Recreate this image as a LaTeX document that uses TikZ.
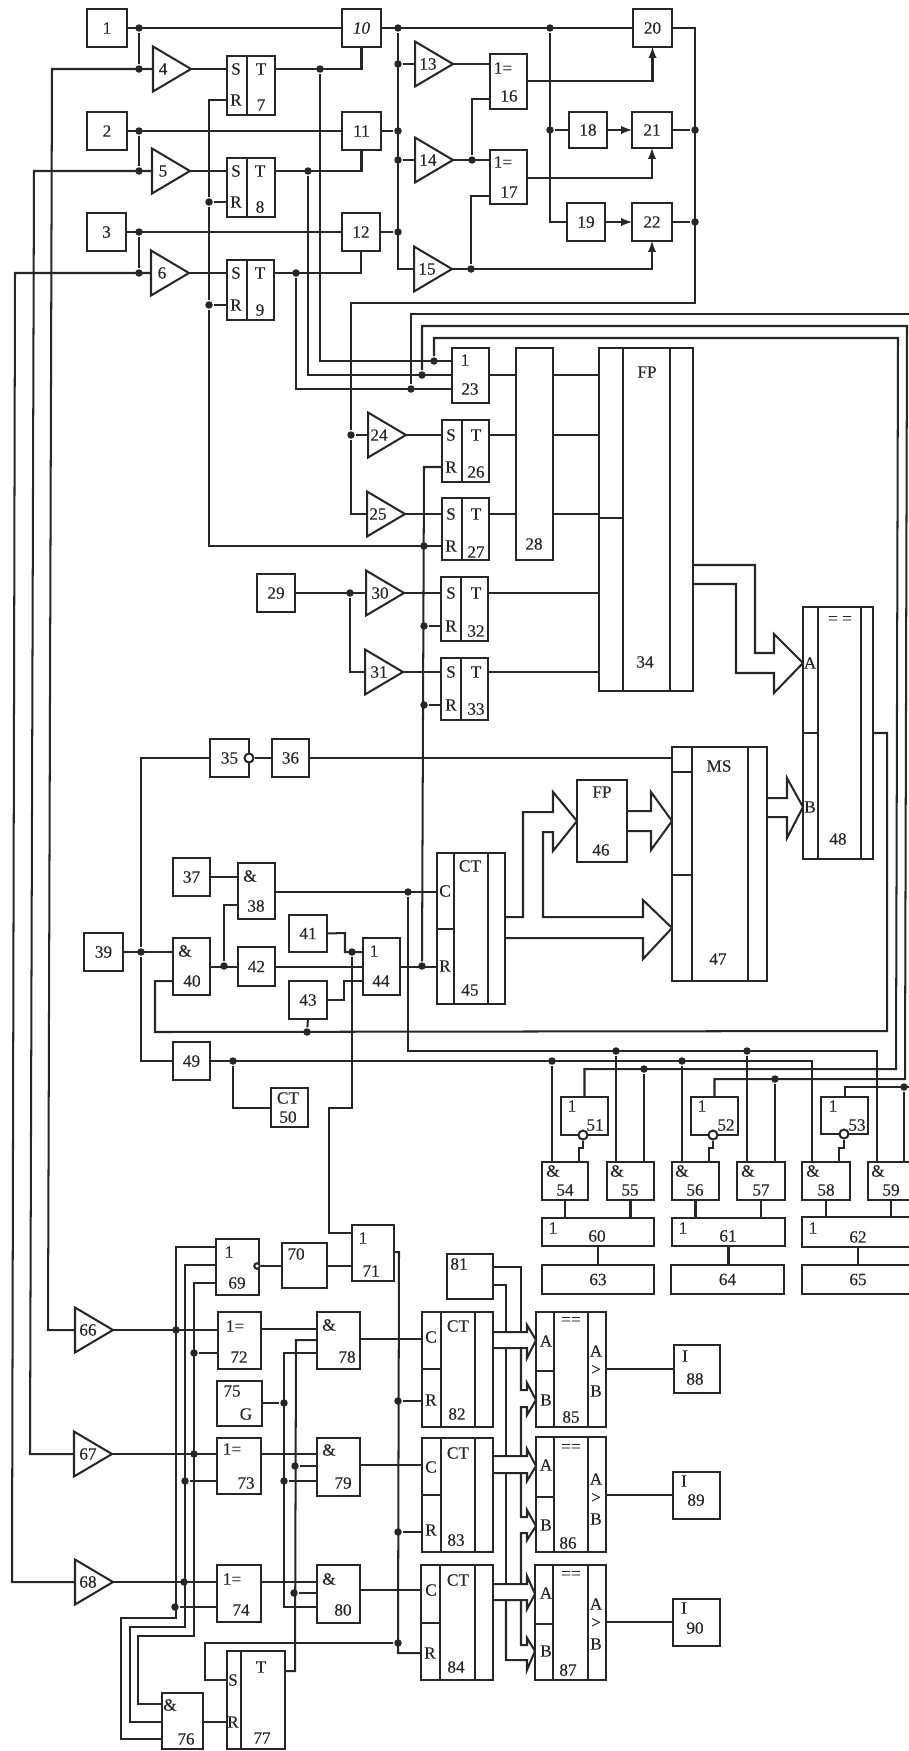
\documentclass[tikz,border=0pt]{standalone}
\usepackage{fontspec}
\setmainfont[FakeBold=0.25]{Liberation Serif}
\usepackage{tikz}
\usepackage{xcolor}
\usetikzlibrary{arrows,shapes.geometric}
\definecolor{ink}{HTML}{262626}
\tikzset{
	box/.style={draw,rectangle,inner sep=0pt,outer sep=0pt},
	tri/.style={draw,isosceles triangle,isosceles triangle stretches,inner sep=0pt,outer sep=0pt,anchor=apex,minimum width=0.9cm,minimum height=0.76cm},
	lab/.style={inner sep=0pt,outer sep=0pt},
	jdot/.style={circle,fill,inner sep=0pt,minimum size=0.15cm},
	bub/.style={circle,draw,fill=white,inner sep=0pt,minimum size=0.18cm},
	smallbub/.style={circle,draw,fill=white,inner sep=0pt,minimum size=0.11cm},
	fat/.style={line join=miter}
}
\begin{document}
\begin{tikzpicture}[x=0.02cm,y=-0.02cm,line width=1.15pt,color=ink,font=\fontsize{9.8}{11}\selectfont,>=latex]
	\path[use as bounding box,clip] (0,0) rectangle (909,1751);
	\coordinate (e1) at (915,314);
	\coordinate (e2) at (915,1087);
	\foreach \n/\xa/\ya/\xb/\yb/\t in {1/87/9/127/47/1,2/87/112/127/150/2,3/87/213/126/251/3,10/342/9/381/47/\textit{10},11/342/112/381/150/11,12/342/213/380/251/12,
		7/227/56/275/115/{},8/227/158/275/217/{},9/227/260/274/320/{},16/490/54/527/109/{},17/490/150/527/204/{},
		18/569/112/607/148/18,19/567/203/605/241/19,20/633/9/672/47/20,21/632/112/672/148/21,22/632/203/672/241/22,
		23/452/348/489/403/{},26/442/420/489/482/{},27/442/498/489/560/{},28/516/348/553/560/{},29/257/574/295/612/29,
		32/441/577/488/641/{},33/441/658/488/720/{},34/599/348/693/691/{},35/210/739/249/777/35,36/272/739/309/777/36,
		37/173/858/210/896/37,38/238/863/275/919/{},39/84/933/123/971/39,40/173/938/210/995/{},41/289/915/327/952/41,
		42/238/947/275/986/42,43/289/981/327/1019/43,44/363/938/400/995/{},45/437/853/505/1004/{},46/577/780/627/862/{},
		47/672/747/767/981/{},48/803/607/873/859/{},49/173/1042/210/1080/49,50/271/1088/308/1127/{},
		51/561/1097/608/1135/{},52/691/1097/738/1135/{},53/821/1097/868/1134/{},
		54/542/1162/588/1200/{},55/607/1162/654/1200/{},56/672/1162/719/1200/{},57/737/1162/785/1200/{},58/802/1162/850/1200/{},59/868/1162/914/1200/{},
		60/542/1218/654/1246/{},61/672/1218/785/1246/{},62/802/1217/914/1247/{},63/542/1265/654/1294/63,64/671/1265/784/1294/64,65/802/1265/914/1294/65,
		69/216/1239/259/1295/{},70/282/1243/327/1288/{},71/352/1225/394/1281/{},72/218/1312/261/1369/{},73/217/1438/261/1494/{},74/217/1565/261/1622/{},
		75/217/1381/262/1426/{},76/162/1693/203/1749/{},77/227/1651/285/1749/{},78/317/1312/360/1369/{},79/317/1438/360/1496/{},80/317/1565/360/1623/{},
		81/447/1254/493/1299/{},82/422/1312/493/1427/{},83/422/1438/493/1552/{},84/421/1565/493/1680/{},85/536/1312/606/1427/{},86/536/1437/606/1552/{},87/535/1565/606/1680/{},
		88/674/1345/720/1393/{},89/673/1472/720/1519/{},90/673/1599/720/1646/{}}
		\node[box,minimum width={(\xb-\xa)*0.02cm},minimum height={(\yb-\ya)*0.02cm}] (b\n) at ({(\xa+\xb)/2},{(\ya+\yb)/2}) {\t};
	\foreach \n/\x/\y in {4/191/69,5/190/171,6/189/273,13/453/64,14/453/160,15/452/269,24/406/435,25/405/514,30/404/593,31/403/672,66/113/1330,67/112/1454,68/113/1582}
		\node[tri] (b\n) at (\x,\y) {};
	\foreach \n/\x/\y in {ja1/139/28,ja2/139/69,jb1/139/131,jb2/139/171,jc1/139/232,jc2/139/273,
		jq1/320/69,jq2/308/171,jq3/296/273,jr1/209/202,jr2/209/305,
		js1/398/28,js2/398/64,js3/398/131,js4/398/160,js5/398/232,jt1/550/28,jt2/550/130,ju1/472/160,ju2/471/269,jv1/695/130,jv2/695/222,
		jw1/434/361,jw2/422/375,jw3/411/389,jx1/351/435,jy1/424/546,jy2/424/626,jy3/424/705,jy4/422/966,jz1/350/593,
		k1/141/952,k2/224/966,k3/352/952,k4/307/1032,k5/408/892,k6/233/1061,
		m1/552/1061,m2/616/1051,m3/644/1069,m4/682/1061,m5/747/1051,m6/775/1079,m7/904/1087,
		n1/176/1330,n2/194/1353,n3/194/1454,n4/185/1481,n5/184/1582,n6/175/1607,
		p1/284/1403,p2/295/1466,p3/284/1481,p4/294/1593,q1/398/1401,q2/398/1532,q3/398/1643}
		\node[jdot] (\n) at (\x,\y) {};
	\foreach \bk/\x in {b7/247,b8/247,b9/247,b26/462,b27/462,b32/461,b33/461,b34/623,b34/670,b45/454,b45/488,b47/692,b47/748,b48/818,b48/861,
		b82/441,b82/475,b83/441,b83/475,b84/440,b84/475,b85/554,b85/588,b86/554,b86/588,b87/553,b87/588,b77/241}
		\draw (\bk.north -| \x,0) -- (\bk.south -| \x,0);
	\foreach \bk/\x/\y in {b34/623/518,b45/454/929,b47/692/772,b47/692/875,b48/818/733,b82/441/1369,b83/441/1495,b84/440/1623,b85/554/1371,b86/554/1497,b87/553/1624}
		\draw (\bk.west |- 0,\y) -- (\x,\y);
	\foreach \t/\x/\y [count=\i] in {4/163/69,5/163/171,6/162/273,13/428/64,14/428/160,15/427/269,24/379/435,25/378/514,30/380/593,31/379/672,66/88/1330,67/88/1454,68/88/1582,
		S/236/69,T/261/69,R/236/100,7/261/105,S/236/171,T/260/171,R/236/202,8/260/207,S/236/273,T/260/273,R/236/305,9/260/310,
		1=/503/68,16/509/96,1=/503/162,17/509/192,1/465/360,23/470/389,
		S/451/435,T/476/435,R/451/467,26/476/472,S/451/514,T/476/514,R/451/546,27/476/552,28/534/544,
		S/451/593,T/476/593,R/451/626,32/476/631,S/451/672,T/476/672,R/451/705,33/476/709,FP/647/372,34/645/662,
		\&/250/876,38/256/906,\&/185/951,40/192/981,1/374/951,44/381/981,CT/470/866,C/445/891,R/445/966,45/470/990,
		FP/602/792,46/601/850,MS/719/766,47/718/959,= =/840/620,A/810/663,B/810/807,48/838/839,CT/288/1098,50/288/1117,
		1/572/1106,51/595/1125,1/702/1106,52/726/1125,1/833/1106,53/857/1125,
		\&/553/1171,54/565/1190,\&/617/1171,55/630/1190,\&/682/1171,56/695/1190,\&/748/1171,57/761/1190,\&/813/1171,58/826/1190,\&/878/1171,59/891/1190,
		1/553/1228,60/597/1236,1/683/1228,61/728/1236,1/813/1228,62/858/1237,
		1/229/1252,69/237/1283,70/296/1254,1/363/1238,71/371/1271,1=/235/1326,72/239/1357,1=/232/1449,73/246/1483,1=/232/1579,74/241/1610,
		75/232/1391,G/246/1414,\&/329/1325,78/347/1357,\&/329/1450,79/343/1483,\&/329/1579,80/343/1610,
		\&/170/1705,76/186/1739,S/233/1680,R/233/1722,T/261/1667,77/262/1738,81/459/1264,
		CT/458/1326,C/431/1337,R/431/1400,82/457/1414,CT/458/1453,C/431/1467,R/431/1530,83/456/1540,CT/458/1580,C/431/1590,R/430/1653,84/456/1667,
		==/571/1321,A/546/1341,B/546/1400,85/571/1417,A/596/1351,>/596/1370,B/596/1391,
		==/571/1448,A/546/1465,B/546/1525,86/568/1543,A/596/1479,>/596/1498,B/596/1519,
		==/571/1575,A/546/1593,B/546/1651,87/568/1670,A/596/1604,>/596/1623,B/596/1644,
		I/685/1356,88/695/1379,I/684/1481,89/696/1500,I/684/1608,90/695/1628}
		\node[lab] (l\i) at (\x,\y) {\t};
	\node[bub] (o35) at (249,758) {};
	\node[bub] (o51) at (583,1135) {};
	\node[bub] (o52) at (713,1135) {};
	\node[bub] (o53) at (844,1134) {};
	\node[smallbub] (o69) at (257,1266) {};

	\draw (b1) -- (b10);
	\draw (ja1) -- (ja2);
	\draw (b2) -- (b11);
	\draw (jb1) -- (jb2);
	\draw (b3) -- (b12);
	\draw (jc1) -- (jc2);
	\draw (b4.west) -- (52,69) -- (48,1330) -- (b66.west);
	\draw (b5.west) -- (34,171) -- (30,1454) -- (b67.west);
	\draw (b6.west) -- (15,273) -- (12,1582) -- (b68.west);
	\draw (b4.apex) -- (b4.apex -| b7.west);
	\draw (b5.apex) -- (b5.apex -| b8.west);
	\draw (b6.apex) -- (b6.apex -| b9.west);
	\draw (b7.east |- b4.apex) -| (b10.south);
	\draw (b8.east |- b5.apex) -| (b11.south);
	\draw (b9.east |- b6.apex) -| (b12.south);
	\draw (b7.west |- 0,100) -| (jr1);
	\draw (jr1) -- (jr2);
	\draw (jr2) |- (b27.west |- 0,546);
	\draw (jr1) -- (b8.west |- jr1);
	\draw (jr2) -- (b9.west |- jr2);
	\draw (jq1) |- (b23.west |- jw1);
	\draw (jq2) |- (b23.west |- jw2);
	\draw (jq3) |- (b23.west |- jw3);
	\draw (b10) -- (b20);
	\draw (js1) |- (b15.west);
	\draw (js2) -- (b13.west);
	\draw (b11.east |- js3) -- (js3);
	\draw (js4) -- (b14.west);
	\draw (b12.east |- js5) -- (js5);
	\draw (b13.apex) -- (b13.apex -| b16.west);
	\draw (b14.apex) -- (b14.apex -| b17.west);
	\draw (ju1) |- (b16.west |- 0,99);
	\draw (ju2) |- (b17.west |- 0,196);
	\draw[->] (b15.apex) -| (b22.south);
	\draw[->] (b16.east |- 0,81) -| (b20.south);
	\draw[->] (b17.east |- 0,178) -| (b21.south);
	\draw (jt1) |- (b19.west);
	\draw (jt2) -- (b18.west |- jt2);
	\draw[->] (b18) -- (b21);
	\draw[->] (b19) -- (b22);
	\draw (b20.east) -| (695,303) -| (jx1) |- (b25.west);
	\draw (jx1) -- (b24.west);
	\draw (b21.east |- jv1) -- (jv1);
	\draw (b22.east |- jv2) -- (jv2);
	\draw (jw3) |- (e1);
	\draw (jw2) |- (907,326) -- (905,1079) -| (b52.north);
	\draw (jw1) |- (898,338) -- (896,1069) -| (b51.north);
	\draw (e2) -| (b53.north);

	\draw (b23.east |- 0,375) -- (b28.west |- 0,375);
	\draw (b28.east |- 0,375) -- (b34.west |- 0,375);
	\draw (b24.apex) -- (b24.apex -| b26.west);
	\draw (b26.east |- b24.apex) -- (b28.west |- b24.apex);
	\draw (b28.east |- b24.apex) -- (b34.west |- b24.apex);
	\draw (b25.apex) -- (b25.apex -| b27.west);
	\draw (b27.east |- b25.apex) -- (b28.west |- b25.apex);
	\draw (b28.east |- b25.apex) -- (b34.west |- b25.apex);
	\draw (b29) -- (b30.west);
	\draw (jz1) |- (b31.west);
	\draw (b30.apex) -- (b30.apex -| b32.west);
	\draw (b31.apex) -- (b31.apex -| b33.west);
	\draw (b32.east |- b30.apex) -- (b34.west |- b30.apex);
	\draw (b33.east |- b31.apex) -- (b34.west |- b31.apex);
	\draw (b26.west |- 0,467) -- (424,467) -- (jy4);
	\draw (jy2) -- (b32.west |- jy2);
	\draw (jy3) -- (b33.west |- jy3);
	\draw (b44.east) -- (b45.west |- b44.east);
	\draw[fat] (b34.east |- 0,565) -- (755,565) -- (755,653) -- (774,653) -- (774,634) -- (b48.west |- 0,663) -- (774,693) -- (774,673) -- (736,673) -- (736,584) -- (b34.east |- 0,584);

	\draw (b35.west) -| (k1) |- (b49.west);
	\draw (o35) -- (b36);
	\draw (b36) -- (b47.west |- b36);
	\draw (b37) -- (b38.west |- b37);
	\draw (b39) -- (b40.west |- b39);
	\draw (b38.west |- 0,905) -| (k2);
	\draw (b40.east |- b42) -- (b42);
	\draw (b42) -- (b44);
	\draw (b41.east) -- (345,933) -- (345,952) -- (b44.west |- 0,952);
	\draw (b43.east) -- (344,1000) -- (344,981) -- (b44.west |- 0,981);
	\draw (k3) -- (352,1108) -- (329,1108) -- (329,1233) -- (b71.west |- 0,1233);
	\draw (b38.east |- k5) -- (b45.west |- k5);
	\draw (k5) |- (877,1051) -- (b59.north -| 877,0);
	\draw (b40.west |- 0,981) -- (155,981) -- (155,1032) -- (887,1031) -- (887,733) -- (b48.east |- 0,733);
	\draw (b43.south) -- (k4);
	\draw (b49.east) -- (812,1061) -- (b58.north -| 812,0);
	\draw (k6) |- (b50.west);
	\draw (m1) -- (b54.north -| m1);
	\draw (m2) -- (b55.north -| m2);
	\draw (m3) -- (b55.north -| m3);
	\draw (m4) -- (b56.north -| m4);
	\draw (m5) -- (b57.north -| m5);
	\draw (m6) -- (b57.north -| m6);
	\draw (m7) -- (b59.north -| m7);
	\draw (o51) -- (583,1148) -- (579,1148) -- (b54.north -| 579,0);
	\draw (o52) -- (713,1148) -- (709,1148) -- (b56.north -| 709,0);
	\draw (o53) -- (844,1148) -- (839,1148) -- (b58.north -| 839,0);
	\foreach \a/\c in {54/60,55/60,56/61,57/61,58/62,59/62,60/63,61/64,62/65}
		\draw (b\a.south) -- (b\a.south |- b\c.north);
	\draw[fat] (b45.east |- 0,917) -- (523,917) -- (523,812) -- (553,812) -- (553,792) -- (b46.west) -- (553,851) -- (553,832) -- (543,832) -- (543,917) -- (643,917) -- (643,900) -- (b47.west |- 0,928) -- (643,959) -- (643,938) -- (b45.east |- 0,938);
	\draw[fat] (b46.east |- 0,811) -- (651,811) -- (651,792) -- (b47.west |- 0,821) -- (651,850) -- (651,831) -- (b46.east |- 0,831);
	\draw[fat] (b47.east |- 0,798) -- (787,798) -- (787,778) -- (b48.west |- 0,807) -- (787,838) -- (787,817) -- (b47.east |- 0,817);

	\draw (b66.apex) -- (b66.apex -| b72.west);
	\draw (b67.apex) -- (b67.apex -| b73.west);
	\draw (b68.apex) -- (b68.apex -| b74.west);
	\draw (n2) -- (b72.west |- n2);
	\draw (n4) -- (b73.west |- n4);
	\draw (n6) -- (b74.west |- n6);
	\draw (b69.west |- 0,1247) -- (176,1247) -- (176,1618) -- (121,1618) -- (121,1739) -- (b76.west |- 0,1739);
	\draw (b69.west |- 0,1265) -- (185,1265) -- (185,1627) -- (130,1627) -- (130,1722) -- (b76.west |- 0,1722);
	\draw (b69.west |- 0,1283) -- (194,1283) -- (194,1636) -- (138,1636) -- (138,1704) -- (b76.west |- 0,1704);
	\draw (o69) -- (b70.west |- o69);
	\draw (b70) -- (b71.west |- b70);
	\draw (b71.east |- 0,1252) -- (399,1252) -- (398,1653) -- (b84.west |- 0,1653);
	\draw (q1) -- (b82.west |- q1);
	\draw (q2) -- (b83.west |- q2);
	\draw (q3) -- (205,1643) -- (205,1680) -- (b77.west |- 0,1680);
	\draw (b72.east |- 0,1329) -- (b78.west |- 0,1329);
	\draw (b73.east |- 0,1454) -- (b79.west |- 0,1454);
	\draw (b74.east |- 0,1582) -- (b80.west |- 0,1582);
	\draw (b78.west |- 0,1340) -- (296,1340) -- (295,1671) -- (b77.east |- 0,1671);
	\draw (b78.west |- 0,1353) -- (284,1353) -- (284,1607) -- (b80.west |- 0,1607);
	\draw (p2) -- (b79.west |- p2);
	\draw (p3) -- (b79.west |- p3);
	\draw (p4) -- (b80.west |- p4);
	\draw (b75.east |- p1) -- (p1);
	\draw (b76.east |- 0,1722) -- (b77.west |- 0,1722);
	\draw (b78.east |- 0,1339) -- (b82.west |- 0,1339);
	\draw (b79.east |- 0,1465) -- (b83.west |- 0,1465);
	\draw (b80.east |- 0,1590) -- (b84.west |- 0,1590);
	\draw (b85.east |- b88) -- (b88);
	\draw (b86.east |- 0,1495) -- (b89.west |- 0,1495);
	\draw (b87.east |- 0,1622) -- (b90.west |- 0,1622);

	\draw (b81.east |- 0,1267) -- (521,1267) -- (521,1332);
	\draw (b81.east |- 0,1285) -- (506,1285) -- (506,1332);
	\draw (506,1348) -- (506,1456);
	\draw (506,1473) -- (506,1584);
	\draw[fat] (b82.east |- 0,1332) -- (527,1332) -- (527,1325) -- (b85.west |- 0,1340) -- (527,1358) -- (527,1348) -- (b82.east |- 0,1348);
	\draw[fat] (b83.east |- 0,1456) -- (527,1456) -- (527,1449) -- (b86.west |- 0,1466) -- (527,1481) -- (527,1473) -- (b83.east |- 0,1473);
	\draw[fat] (b84.east |- 0,1584) -- (527,1584) -- (527,1576) -- (b87.west |- 0,1594) -- (527,1609) -- (527,1600) -- (b84.east |- 0,1600);
	\draw[fat] (521,1348) -- (521,1390) -- (527,1390) -- (527,1383) -- (b85.west |- 0,1400) -- (527,1415) -- (527,1407) -- (521,1407) -- (521,1456);
	\draw[fat] (521,1473) -- (521,1517) -- (527,1517) -- (527,1510) -- (b86.west |- 0,1526) -- (527,1540) -- (527,1533) -- (521,1533) -- (521,1584);
	\draw[fat] (521,1600) -- (521,1645) -- (527,1645) -- (527,1638) -- (b87.west |- 0,1651) -- (527,1670) -- (527,1660) -- (506,1660) -- (506,1600);
\end{tikzpicture}
\end{document}
